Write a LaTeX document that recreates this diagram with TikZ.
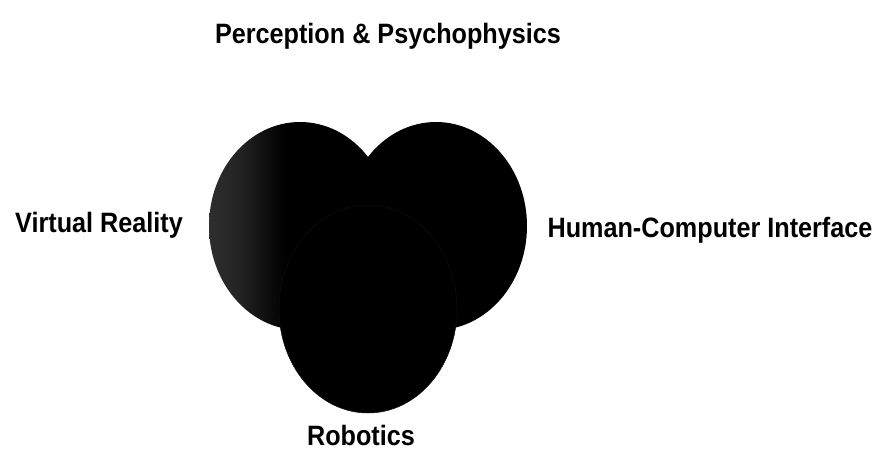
\documentclass[tikz,border=0pt]{standalone}
\usepackage{fontspec}
\setmainfont[FakeStretch=0.9]{Liberation Sans}
% darker left side of the left field, black from the middle on
\pgfdeclarehorizontalshading{vrshade}{100bp}{color(0bp)=(black!82); color(25bp)=(black!82); color(33bp)=(black!86); color(46bp)=(black); color(100bp)=(black)}
\begin{document}
\begin{tikzpicture}[x=1pt,y=-1pt]
 % styles for the fields and their labels
 \tikzset{field/.style={fill=black},
   fieldlabel/.style={font=\fontsize{28}{30}\selectfont\bfseries, inner sep=0pt}}

 \useasboundingbox (0,0) rectangle (883,450);

 %draw the three overlapping fields
 \shade[shading=vrshade] (300,226) ellipse [x radius=91, y radius=104];
 \fill[field] (436,226) ellipse [x radius=91, y radius=104];
 \fill[field] (368,309) ellipse [x radius=89, y radius=104];
 \draw[black!94, line width=0.5pt] (368,309) ellipse [x radius=89, y radius=104];

 %adding field labels
 \node[fieldlabel] (percep) at (388,36) {Perception \& Psychophysics};
 \node[fieldlabel] (vr) at (99,225) {Virtual Reality};
 \node[fieldlabel] (hci) at (710,230) {Human-Computer Interface};
 \node[fieldlabel] (robot) at (361,435) {Robotics};
\end{tikzpicture}
\end{document}
